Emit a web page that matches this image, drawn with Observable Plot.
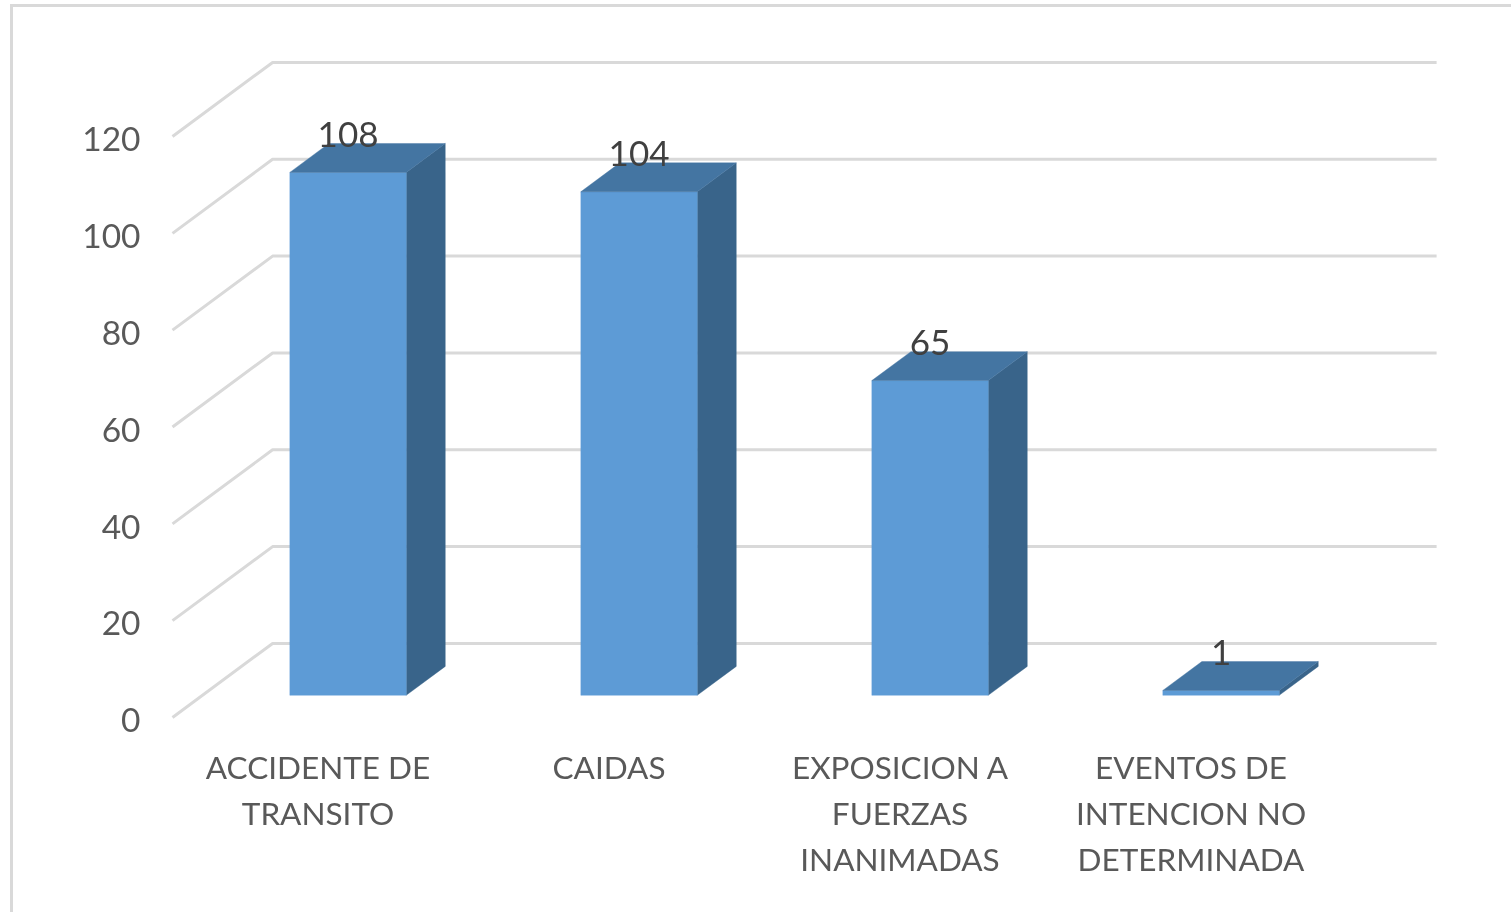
<!DOCTYPE html>
<html>
<head>
<meta charset="utf-8">
<script src="https://cdn.jsdelivr.net/npm/d3@7"></script>
<script src="https://cdn.jsdelivr.net/npm/@observablehq/plot@0.6"></script>
<style>
html,body{margin:0;padding:0;background:#fff;overflow:hidden}
#frame{position:absolute;left:10px;top:4px;width:1501px;height:908px;border-left:3px solid #d9d9d9;border-top:3px solid #d9d9d9;box-sizing:border-box;pointer-events:none}
#chart{position:absolute;left:0;top:0}
#chart svg{display:block;filter:blur(.6px)}
</style>
</head>
<body>
<div id="chart"></div>
<div id="frame"></div>
<script>
const categories = ["ACCIDENTE DE\nTRANSITO", "CAIDAS", "EXPOSICION A\nFUERZAS\nINANIMADAS", "EVENTOS DE\nINTENCION NO\nDETERMINADA"];
const values = [108, 104, 65, 1];
const yTicks = [0, 20, 40, 60, 80, 100, 120];

const skewX = 0.344, skewY = 15.3;      // oblique shift of full depth, in band and value units
const depthFront = 0.3, depthBack = 0.69, barLo = 0.3, barHi = 0.7;
const proj = (band, v, d) => ({x: band + d * skewX, y: v + d * skewY});

const grid = yTicks.flatMap(t => [
  {t, ...proj(0, t, 0)},
  {t, ...proj(0, t, 1)},
  {t, ...proj(categories.length, t, 1)}
]);

const face = (id, pts) => pts.map(p => ({id, ...p}));
const fronts = [], sides = [], tops = [];
values.forEach((v, i) => {
  const a = i + barLo, b = i + barHi;
  fronts.push(...face(i, [proj(a,0,depthFront), proj(b,0,depthFront), proj(b,v,depthFront), proj(a,v,depthFront), proj(a,0,depthFront)]));
  sides.push(...face(i, [proj(b,0,depthFront), proj(b,0,depthBack), proj(b,v,depthBack), proj(b,v,depthFront), proj(b,0,depthFront)]));
  tops.push(...face(i, [proj(a,v,depthFront), proj(b,v,depthFront), proj(b,v,depthBack), proj(a,v,depthBack), proj(a,v,depthFront)]));
});
const poly = (data, color) => Plot.line(data, {x:"x", y:"y", z:"id", fill:color, stroke:color, strokeWidth:0.4, strokeLinecap:"butt", strokeLinejoin:"miter", curve:"linear"});

const font = "Lato, Carlito, Calibri, sans-serif";
const chart = Plot.plot({
  width: 1511, height: 912,
  marginLeft: 172, marginRight: 175, marginTop: 136, marginBottom: 195,
  style: {background:"#fff", fontFamily: font},
  x: {domain:[0, categories.length], axis:null},
  y: {domain:[0, 120], axis:null},
  marks: [
    Plot.line(grid, {x:"x", y:"y", z:"t", stroke:"#d9d9d9", strokeWidth:3, strokeLinecap:"butt", strokeLinejoin:"miter", curve:"linear"}),
    Plot.axisY({ticks:yTicks, tickSize:0, tickPadding:32, label:null, fontSize:33.5, dy:4, fill:"#595959"}),
    poly(sides, "#39648a"),
    poly(fronts, "#5d9bd6"),
    poly(tops, "#4475a2"),
    Plot.text(categories, {x:(d,i)=>i+0.5, y:()=>0, text:d=>d, lineAnchor:"top", dy:28, lineHeight:1.476, fontSize:31.5, fill:"#595959"}),
    Plot.text(values, {x:(d,i)=>i+0.5+depthFront*skewX, y:d=>d+depthFront*skewY, text:d=>String(d), dy:-37, fontSize:35, fill:"#404040"})
  ]
});
document.getElementById("chart").append(chart);
</script>
</body>
</html>
